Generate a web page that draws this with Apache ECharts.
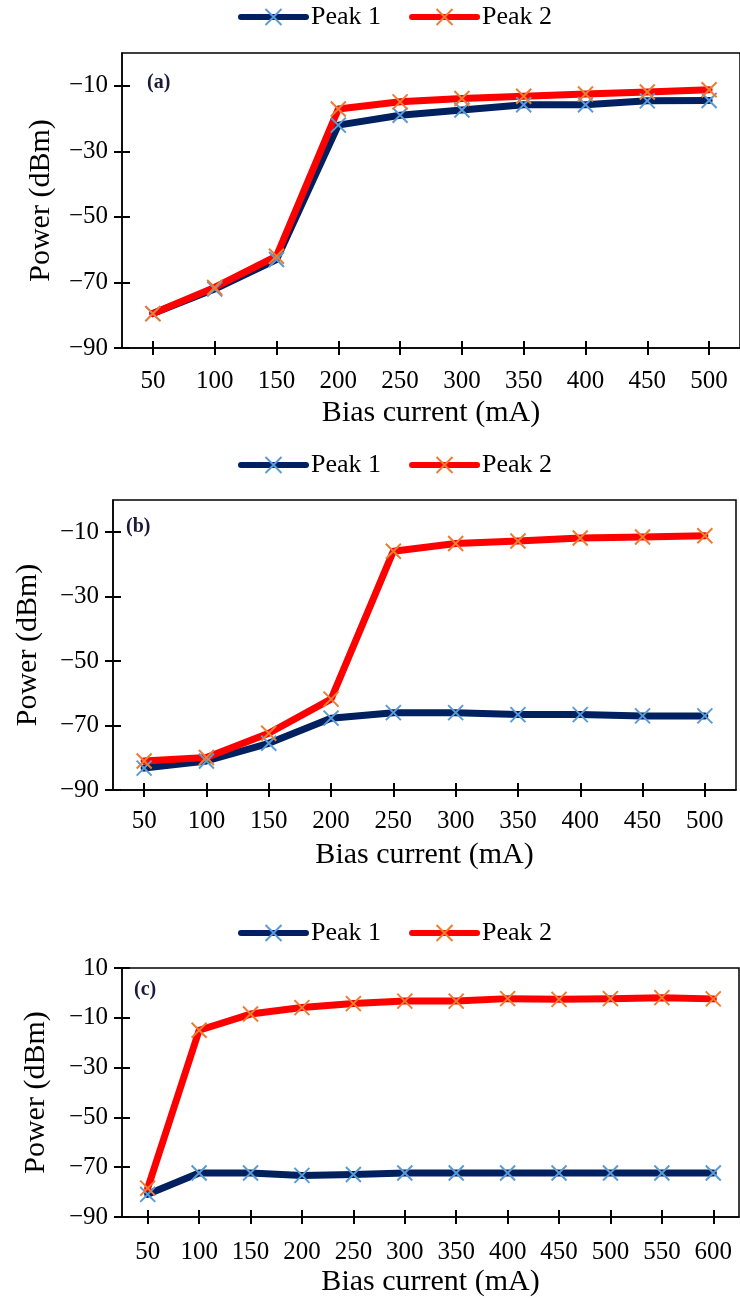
<!DOCTYPE html>
<html>
<head>
<meta charset="utf-8">
<script src="https://cdn.jsdelivr.net/npm/echarts@6/dist/echarts.min.js"></script>
<style>
  html, body { margin: 0; background: #fff; }
  #chart { width: 740px; height: 1301px; }
</style>
</head>
<body>
<div id="chart"></div>
<script>
// bias current categories (mA)
const currentAB = ['50', '100', '150', '200', '250', '300', '350', '400', '450', '500']
const currentC = ['50', '100', '150', '200', '250', '300', '350', '400', '450', '500', '550', '600']

// power (dBm)
const peak1A = [-79.5, -72, -63, -22, -19, -17.4, -15.8, -15.8, -14.6, -14.5]
const peak2A = [-79.5, -71.5, -62, -17.1, -14.9, -13.9, -13.2, -12.5, -11.9, -11.2]
const peak1B = [-83.2, -81, -75.5, -67.7, -66, -66, -66.6, -66.6, -67, -67]
const peak2B = [-81, -79.9, -72.4, -61.8, -15.9, -13.5, -12.7, -11.8, -11.5, -11.1]
const peak1C = [-80.9, -72.3, -72.3, -73.3, -72.9, -72.3, -72.3, -72.3, -72.3, -72.3, -72.3, -72.3]
const peak2C = [-78.4, -15, -8.5, -5.9, -4.3, -3.3, -3.3, -2.3, -2.6, -2.3, -1.9, -2.4]

// y tick labels
const powerTicksAB = [-90, -70, -50, -30, -10]
const powerTicksC = [-90, -70, -50, -30, -10, 10]

const FONT = 'Liberation Serif'
const crossMark = 'path://M0,0L10,10M10,0L0,10'
const axisColor = { color: '#000', width: 1.5 }
const tickColor = { color: '#000', width: 2 }

const panels = [
  { tag: '(a)', cats: currentAB, p1: peak1A, p2: peak2A, ticks: powerTicksAB, max: 0,
    grid: { left: 122, right: -8, top: 53, height: 295 }, legendTop: 4, tagPos: [147, 73],
    yNameGap: 66, xMargin: 21 },
  { tag: '(b)', cats: currentAB, p1: peak1B, p2: peak2B, ticks: powerTicksAB, max: 0,
    grid: { left: 113, right: 4, top: 500, height: 290 }, legendTop: 452, tagPos: [126, 517],
    yNameGap: 70, xMargin: 19 },
  { tag: '(c)', cats: currentC, p1: peak1C, p2: peak2C, ticks: powerTicksC, max: 10,
    grid: { left: 122, right: 1, top: 968, height: 249 }, legendTop: 920, tagPos: [134, 980],
    yNameGap: 71, xMargin: 23 }
]

const grid = []
const xAxis = []
const yAxis = []
const legend = []
const series = []
const graphic = []

panels.forEach((p, i) => {
  grid.push(Object.assign({ show: true, borderColor: '#000', borderWidth: 1.5 }, p.grid))

  xAxis.push({
    type: 'category',
    gridIndex: i,
    data: p.cats,
    boundaryGap: true,
    axisLine: { show: true, onZero: false, lineStyle: axisColor },
    axisTick: { show: true, alignWithLabel: true, length: 7, lineStyle: tickColor },
    axisLabel: { color: '#000', fontFamily: FONT, fontSize: 25, margin: p.xMargin },
    name: 'Bias current (mA)',
    nameLocation: 'middle',
    nameGap: 50,
    nameTextStyle: { color: '#000', fontFamily: FONT, fontSize: 30 }
  })
  // second axis only for the inner half of the crossing ticks
  xAxis.push({
    type: 'category',
    gridIndex: i,
    data: p.cats,
    position: 'bottom',
    axisLine: { show: false, onZero: false },
    axisTick: { show: true, inside: true, alignWithLabel: true, length: 7, lineStyle: tickColor },
    axisLabel: { show: false }
  })

  yAxis.push({
    type: 'value',
    gridIndex: i,
    min: -90,
    max: p.max,
    axisLine: { show: true, onZero: false, lineStyle: axisColor },
    axisTick: { show: true, length: 8, customValues: p.ticks, lineStyle: tickColor },
    axisLabel: {
      customValues: p.ticks,
      color: '#000',
      fontFamily: FONT,
      fontSize: 25,
      margin: 14,
      formatter: v => (v < 0 ? '\u2212' + Math.abs(v) : String(v))
    },
    splitLine: { show: false },
    name: 'Power (dBm)',
    nameLocation: 'middle',
    nameGap: p.yNameGap,
    nameTextStyle: { color: '#000', fontFamily: FONT, fontSize: 30 }
  })
  yAxis.push({
    type: 'value',
    gridIndex: i,
    min: -90,
    max: p.max,
    position: 'left',
    axisLine: { show: false, onZero: false },
    axisTick: { show: true, inside: true, length: 8, customValues: p.ticks, lineStyle: tickColor },
    axisLabel: { show: false },
    splitLine: { show: false }
  })

  legend.push({
    top: p.legendTop,
    left: 238,
    padding: 0,
    itemWidth: 65,
    itemHeight: 20,
    itemGap: 28,
    data: ['Peak 1', 'Peak 2'],
    lineStyle: { width: 6 },
    itemStyle: { borderWidth: 2 },
    textStyle: { color: '#000', fontFamily: FONT, fontSize: 26 }
  })

  series.push({
    name: 'Peak 1',
    type: 'line',
    xAxisIndex: 2 * i,
    yAxisIndex: 2 * i,
    data: p.p1,
    symbol: crossMark,
    symbolSize: 15,
    lineStyle: { color: '#002060', width: 7, cap: 'round', join: 'round' },
    itemStyle: { color: '#5b9bd5', borderColor: '#5b9bd5', borderWidth: 2 }
  })
  series.push({
    name: 'Peak 2',
    type: 'line',
    xAxisIndex: 2 * i,
    yAxisIndex: 2 * i,
    data: p.p2,
    symbol: crossMark,
    symbolSize: 15,
    lineStyle: { color: '#ff0000', width: 7, cap: 'round', join: 'round' },
    itemStyle: { color: '#ed7d31', borderColor: '#ed7d31', borderWidth: 2 }
  })

  graphic.push({
    type: 'text',
    left: p.tagPos[0],
    top: p.tagPos[1],
    style: { text: p.tag, fill: '#1a1a3a', font: 'bold 20px "Liberation Serif"' }
  })
})

const chart = echarts.init(document.getElementById('chart'))
chart.setOption({
  animation: false,
  grid,
  xAxis,
  yAxis,
  legend,
  series,
  graphic
})
</script>
</body>
</html>
